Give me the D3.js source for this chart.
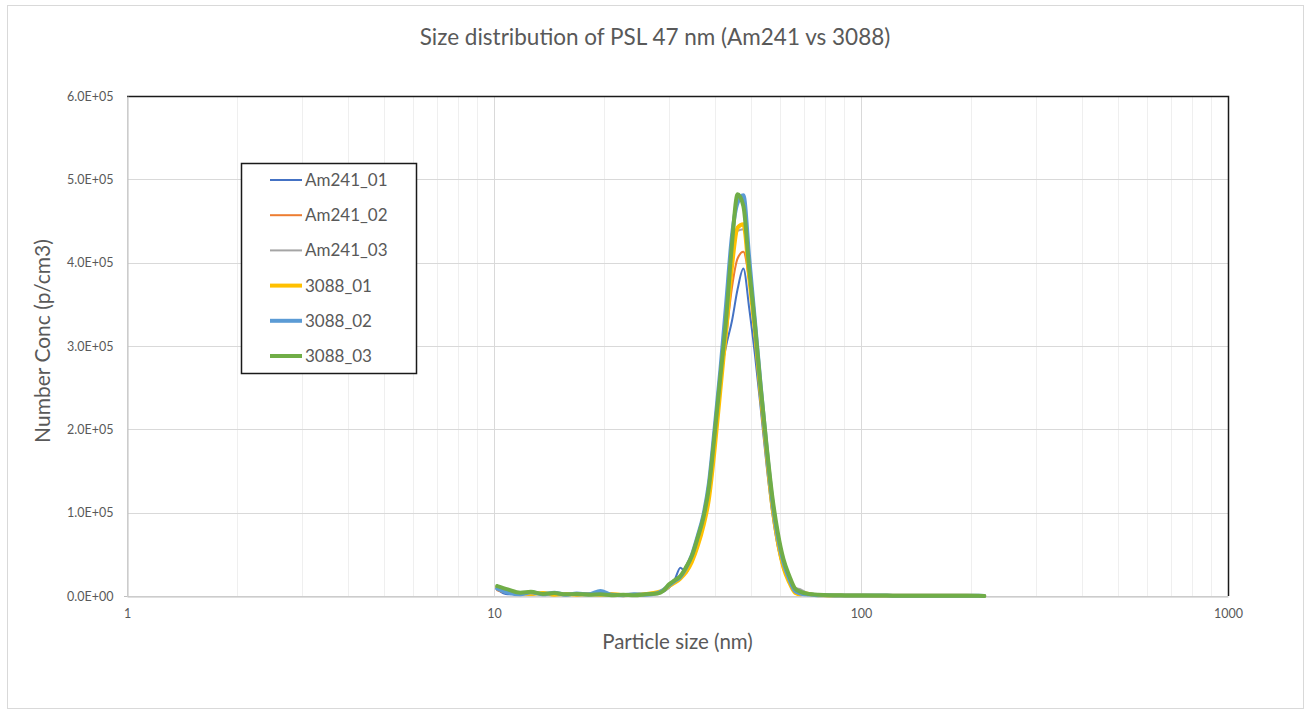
<!DOCTYPE html>
<html>
<head>
<meta charset="utf-8">
<script src="https://cdn.jsdelivr.net/npm/d3@7/dist/d3.min.js"></script>
<style>
  html, body { margin: 0; padding: 0; background: #fff; }
  svg { display: block; }
  text { font-family: Lato, "Open Sans", sans-serif; fill: #595959; }
</style>
</head>
<body>
<svg id="chart" width="1310" height="711"></svg>
<script>
// ---------- DATA ----------
const title = "Size distribution of PSL 47 nm (Am241 vs 3088)";
const xTitle = "Particle size (nm)";
const yTitle = "Number Conc (p/cm3)";

const sizes = [10.2, 10.9, 11.8, 12.6, 13.6, 14.6, 15.7, 16.8, 18.1, 19.5,
  20.9, 22.5, 24.1, 25.9, 27.9, 28.9, 30.0, 31.1, 32.2, 33.4,
  34.6, 35.9, 37.2, 38.5, 40.0, 41.4, 42.9, 44.5, 46.1, 47.8,
  49.6, 51.4, 53.3, 55.2, 57.3, 59.4, 61.5, 63.8, 66.1, 68.5,
  71.0, 73.7, 76.4, 79.1, 82.0, 88.2, 94.7, 101.8, 109.4, 117.6,
  126.3, 135.8, 145.9, 156.8, 168.5, 181.1, 194.6, 209.1, 216.7];

const seriesNames = ["Am241_01", "Am241_02", "Am241_03", "3088_01", "3088_02", "3088_03"];

const am241_01 = [8000, 2000, 3500, 1500, 4000, 1500, 2000, 1000, 2500, 5000,
  1000, 1500, 1000, 2000, 3000, 5000, 10000, 20000, 34000, 28000,
  45000, 64000, 88000, 120000, 185000, 262000, 300000, 330000, 368000, 393000,
  345000, 290000, 225000, 160000, 100000, 58000, 32000, 17000, 6000, 4000,
  3000, 2000, 1500, 1000, 900, 700, 600, 800, 500, 400,
  500, 300, 400, 300, 300, 200, 300, 200, 100];

const am241_02 = [7000, 4000, 3000, 2000, 2500, 2000, 2500, 1500, 2000, 1500,
  1000, 2000, 1500, 3000, 4000, 6500, 11000, 18000, 22000, 31000,
  44000, 64000, 89000, 122000, 185000, 252000, 310000, 370000, 405000, 413000,
  378000, 320000, 248000, 180000, 114000, 70000, 42000, 23000, 9000, 6000,
  3500, 2500, 2000, 1500, 1000, 800, 700, 600, 500, 500,
  400, 400, 300, 300, 300, 200, 200, 200, 100];

const am241_03 = [8000, 5000, 2500, 3000, 2000, 2500, 1500, 2000, 1500, 2500,
  1500, 1000, 1500, 2000, 3500, 6000, 10000, 17000, 20000, 32000,
  45000, 66000, 91000, 126000, 190000, 256000, 322000, 395000, 438000, 440000,
  380000, 318000, 245000, 178000, 112000, 68000, 40000, 22000, 10000, 8000,
  4000, 2500, 2000, 1500, 1200, 900, 700, 600, 600, 500,
  400, 400, 300, 300, 300, 200, 200, 200, 100];

const p3088_01 = [10000, 6000, 3000, 2500, 3500, 1500, 2500, 1500, 2500, 1500,
  2500, 1000, 1500, 2500, 4500, 7000, 12000, 16000, 21000, 29000,
  41000, 60000, 84000, 116000, 180000, 248000, 318000, 395000, 442000, 446000,
  382000, 318000, 242000, 175000, 108000, 64000, 34000, 16000, 4000, 2000,
  3000, 1500, 1000, 800, 700, 600, 500, 500, 400, 400,
  300, 300, 300, 200, 200, 200, 200, 100, 100];

const p3088_02 = [9000, 4000, 2000, 4500, 2000, 4000, 1500, 3000, 2000, 6000,
  1500, 1000, 2000, 1500, 3500, 7000, 13000, 18000, 23000, 34000,
  49000, 72000, 97000, 135000, 205000, 272000, 350000, 432000, 472000, 481000,
  405000, 330000, 252000, 182000, 115000, 70000, 40000, 20000, 6000, 3000,
  2000, 1500, 1000, 1000, 800, 700, 600, 700, 500, 500,
  400, 400, 300, 300, 300, 200, 200, 200, 100];

const p3088_03 = [12000, 8000, 4000, 5000, 2500, 3500, 2000, 2500, 1500, 2000,
  1000, 1500, 1000, 2000, 3000, 6000, 14000, 19000, 24000, 35000,
  48000, 70000, 94000, 130000, 198000, 264000, 332000, 422000, 482000, 468000,
  392000, 326000, 250000, 184000, 120000, 75000, 44000, 24000, 9000, 5000,
  3000, 2000, 1500, 1200, 1000, 800, 600, 700, 500, 500,
  400, 400, 300, 300, 300, 200, 200, 200, 100];

const seriesValues = [am241_01, am241_02, am241_03, p3088_01, p3088_02, p3088_03];
const seriesColors = ["#4472C4", "#ED7D31", "#A5A5A5", "#FFC000", "#5B9BD5", "#70AD47"];
const seriesWidths = [2, 2, 2, 4, 4, 4];

const yTicks = [0, 100000, 200000, 300000, 400000, 500000, 600000];
const yTickLabels = ["0.0E+00", "1.0E+05", "2.0E+05", "3.0E+05", "4.0E+05", "5.0E+05", "6.0E+05"];
const xTicks = [1, 10, 100, 1000];
const xTickLabels = ["1", "10", "100", "1000"];

// ---------- LAYOUT ----------
const svg = d3.select("#chart");
const plot = { left: 127, right: 1228, top: 96, bottom: 596 };

const x = d3.scaleLog().domain([1, 1000]).range([plot.left, plot.right]);
const y = d3.scaleLinear().domain([0, 600000]).range([plot.bottom, plot.top]);

// outer chart border
svg.append("rect")
  .attr("x", 7.5).attr("y", 5.5).attr("width", 1296).attr("height", 703)
  .attr("fill", "#fff").attr("stroke", "#d9d9d9").attr("stroke-width", 1);

// title
svg.append("text")
  .attr("x", 655).attr("y", 45)
  .attr("text-anchor", "middle")
  .attr("font-size", 22.5)
  .text(title);

// minor vertical gridlines
const minorTicks = [];
[1, 10, 100].forEach(d => { for (let k = 2; k <= 9; k++) minorTicks.push(d * k); });
svg.append("g").selectAll("line").data(minorTicks).join("line")
  .attr("x1", d => Math.round(x(d)) + 0.5).attr("x2", d => Math.round(x(d)) + 0.5)
  .attr("y1", plot.top).attr("y2", plot.bottom)
  .attr("stroke", "#efefef").attr("stroke-width", 1);

// major vertical gridlines
svg.append("g").selectAll("line").data(xTicks).join("line")
  .attr("x1", d => Math.round(x(d)) + 0.5).attr("x2", d => Math.round(x(d)) + 0.5)
  .attr("y1", plot.top).attr("y2", plot.bottom)
  .attr("stroke", "#d9d9d9").attr("stroke-width", 1);

// horizontal gridlines
svg.append("g").selectAll("line").data(yTicks).join("line")
  .attr("x1", plot.left).attr("x2", plot.right)
  .attr("y1", d => Math.round(y(d)) + 0.5).attr("y2", d => Math.round(y(d)) + 0.5)
  .attr("stroke", "#d9d9d9").attr("stroke-width", 1);

// plot area border (top & right black)
svg.append("path")
  .attr("d", `M${plot.left},${plot.top + 0.5}H${plot.right + 0.5}V${plot.bottom}`)
  .attr("fill", "none").attr("stroke", "#1a1a1a").attr("stroke-width", 1.5);

// axes
const xAxis = d3.axisBottom(x).tickValues(xTicks).tickFormat((d, i) => xTickLabels[i]).tickSize(0).tickPadding(13);
const gx = svg.append("g").attr("transform", `translate(0,${plot.bottom + 0.5})`).call(xAxis);
gx.select(".domain").attr("stroke", "#bfbfbf");
gx.selectAll("text").attr("font-size", 12.5).attr("font-family", "Lato, 'Open Sans', sans-serif").attr("fill", "#595959");

const yAxis = d3.axisLeft(y).tickValues(yTicks).tickFormat((d, i) => yTickLabels[i]).tickSize(0).tickPadding(14);
const gy = svg.append("g").attr("transform", `translate(${plot.left + 0.5},0)`).call(yAxis);
gy.select(".domain").attr("stroke", "#bfbfbf");
gy.selectAll("text").attr("font-size", 12.5).attr("font-family", "Lato, 'Open Sans', sans-serif").attr("fill", "#595959");

// small tick mark at origin
svg.append("line").attr("x1", plot.left - 3).attr("x2", plot.left)
  .attr("y1", plot.bottom + 0.5).attr("y2", plot.bottom + 0.5).attr("stroke", "#bfbfbf");

// axis titles
svg.append("text")
  .attr("x", (plot.left + plot.right) / 2).attr("y", 649)
  .attr("text-anchor", "middle").attr("font-size", 20.5)
  .text(xTitle);
svg.append("text")
  .attr("transform", `translate(50,${(plot.top + plot.bottom) / 2 - 5}) rotate(-90)`)
  .attr("text-anchor", "middle").attr("font-size", 21)
  .text(yTitle);

// series lines
const line = d3.line()
  .x(d => x(d[0]))
  .y(d => y(d[1]))
  .curve(d3.curveMonotoneX);

const gLines = svg.append("g");
seriesValues.forEach((vals, i) => {
  const pts = sizes.map((s, j) => [s, vals[j]]);
  gLines.append("path")
    .datum(pts)
    .attr("d", line)
    .attr("fill", "none")
    .attr("stroke", seriesColors[i])
    .attr("stroke-width", seriesWidths[i])
    .attr("stroke-linejoin", "round")
    .attr("stroke-linecap", "round");
});

// legend
const legend = svg.append("g");
legend.append("rect")
  .attr("x", 241.5).attr("y", 163.5).attr("width", 175).attr("height", 210)
  .attr("fill", "#fff").attr("stroke", "#1a1a1a").attr("stroke-width", 1.5);
seriesNames.forEach((name, i) => {
  const cy = 180 + i * 35.2;
  legend.append("line")
    .attr("x1", 270).attr("x2", 302).attr("y1", cy).attr("y2", cy)
    .attr("stroke", seriesColors[i]).attr("stroke-width", seriesWidths[i]);
  legend.append("text")
    .attr("x", 305).attr("y", cy).attr("dy", "0.35em")
    .attr("font-size", 17)
    .text(name);
});
</script>
</body>
</html>
